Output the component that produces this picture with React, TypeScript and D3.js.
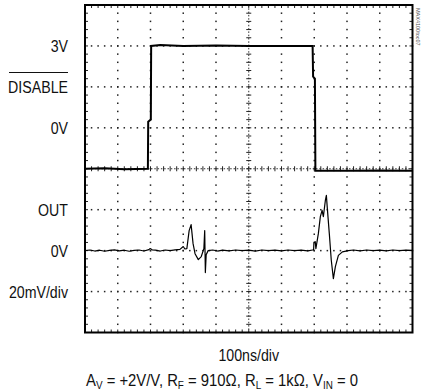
import React from "react";
import * as d3 from "d3";

// time in ns (100ns/div, 10 div), DISABLE in volts, OUT in mV (20mV/div)
const disableT = [0, 60, 120, 192, 193, 201, 202, 230, 300, 400, 500, 600, 695, 696.5, 702, 703.5, 800, 900, 1000];
const disableV = [0, 0.01, -0.01, 0, 1.15, 1.2, 3.0, 3.02, 3.0, 3.01, 3.0, 3.0, 3.0, 2.25, 2.2, -0.05, -0.05, -0.04, -0.05];

const outT = [0, 15, 30, 45, 60, 75, 90, 105, 120, 135, 150, 165, 180, 195, 199, 205, 215, 230, 245, 260, 275, 290, 300, 305, 311, 318, 324, 330, 336, 346, 355, 363, 365.5, 367.5, 370, 376, 390, 405, 420, 440, 460, 480, 500, 520, 540, 560, 580, 600, 620, 640, 660, 680, 695, 698, 699, 703, 705, 712.5, 718.6, 723.9, 727.8, 733.9, 737, 740, 746, 752, 758.4, 764.5, 773.7, 786, 804, 820, 840, 860, 880, 900, 920, 940, 960, 980, 1000];
const outMV = [0, 0.3, -0.2, 0.2, -0.3, 0.1, 0.4, -0.1, 0.2, -0.3, 0.1, 0.3, -0.2, 0.5, 1.0, 0.4, 0.2, -0.2, 0.3, 0, 0.4, 0.6, 2.0, 0.8, 1.0, 9.8, 12.7, 3.4, -1.5, -4.4, -2.9, 1.0, 9.8, -10.7, -2, 0, 0.3, -0.2, 0.2, -0.1, 0.3, 0, 0.2, -0.2, 0.3, 0, 0.2, -0.1, 0.3, 0, 0.2, -0.1, 0.3, 0.3, 3.8, 4.4, 1, 8.3, 16.6, 19.7, 16.6, 24.5, 27, 20.5, 8.3, -4.7, -13.7, -7.8, -2.3, -0.6, 0, 0.3, -0.1, 0.3, 0, 0.2, -0.1, 0.3, 0, 0.2, 0.1];

const leftLabels = ["3V", "DISABLE", "0V", "OUT", "0V", "20mV/div"];
const leftLabelDiv = [7, 6, 5, 3, 2, 1];
const xTitle = "100ns/div";

const L = 85, R = 412.5, T = 5, B = 332.5;
const FONT = "'Liberation Sans', Arial, sans-serif";
const SX = 0.86;

export default function App() {
  const x = d3.scaleLinear().domain([0, 1000]).range([L, R]);
  const y = d3.scaleLinear().domain([0, 8]).range([B, T]);
  const disableDiv = (v: number) => 4 + v; // 1V/div, 0V at div 4
  const outDiv = (mv: number) => 2 + mv / 20; // 20mV/div, 0 at div 2

  const disLine = d3.line<number>().x((_, i) => x(disableT[i])).y((v) => y(disableDiv(v)));
  const outLine = d3.line<number>().x((_, i) => x(outT[i])).y((v) => y(outDiv(v)));

  const xMinor = d3.range(0, 51).map((i) => i * 20);
  const yMinor = d3.range(0, 41).map((i) => i * 0.2);
  const xMajor = d3.range(1, 10).map((i) => i * 100);
  const yMajor = d3.range(1, 8);

  const dots: JSX.Element[] = [];
  yMajor.forEach((d) => {
    if (d === 4) return;
    xMinor.forEach((t, k) => dots.push(<rect key={`h${d}-${k}`} x={x(t) - 0.75} y={y(d) - 0.75} width={1.5} height={1.5} fill="#222" />));
  });
  xMajor.forEach((t) => {
    if (t === 500) return;
    yMinor.forEach((d, k) => dots.push(<rect key={`v${t}-${k}`} x={x(t) - 0.75} y={y(d) - 0.75} width={1.5} height={1.5} fill="#222" />));
  });

  const ticks: JSX.Element[] = [];
  xMinor.forEach((t, k) => ticks.push(<line key={`ch${k}`} x1={x(t)} x2={x(t)} y1={y(4) - 2.5} y2={y(4) + 2.5} stroke="#222" strokeWidth={1} />));
  yMinor.forEach((d, k) => ticks.push(<line key={`cv${k}`} x1={x(500) - 2.5} x2={x(500) + 2.5} y1={y(d)} y2={y(d)} stroke="#222" strokeWidth={1} />));
  xMinor.forEach((t, k) => {
    ticks.push(<line key={`bt${k}`} x1={x(t)} x2={x(t)} y1={T} y2={T + 3} stroke="#222" strokeWidth={1} />);
    ticks.push(<line key={`bb${k}`} x1={x(t)} x2={x(t)} y1={B} y2={B - 3} stroke="#222" strokeWidth={1} />);
  });
  yMinor.forEach((d, k) => {
    ticks.push(<line key={`bl${k}`} x1={L} x2={L + 3} y1={y(d)} y2={y(d)} stroke="#222" strokeWidth={1} />);
    ticks.push(<line key={`br${k}`} x1={R} x2={R - 3} y1={y(d)} y2={y(d)} stroke="#222" strokeWidth={1} />);
  });

  return (
    <svg width={422} height={390} style={{ position: "absolute", left: 0, top: 0, background: "#fff" }}>
      <rect x={0} y={0} width={422} height={390} fill="#fff" />
      {dots}
      <line x1={L} x2={R} y1={y(4)} y2={y(4)} stroke="#333" strokeWidth={1} strokeDasharray="1.5 1.8" />
      <line x1={x(500)} x2={x(500)} y1={T} y2={B} stroke="#333" strokeWidth={1} strokeDasharray="1.5 1.8" />
      {ticks}
      <rect x={L} y={T} width={R - L} height={B - T} fill="none" stroke="#000" strokeWidth={2} />
      <path d={disLine(disableV) || ""} fill="none" stroke="#000" strokeWidth={2} />
      <path d={outLine(outMV) || ""} fill="none" stroke="#000" strokeWidth={1.2} strokeLinejoin="round" />
      {leftLabels.map((lab, i) => (
        <g key={lab + i} transform={`translate(68,${y(leftLabelDiv[i])}) scale(${SX},1)`}>
          <text x={0} y={0} dy="0.36em" textAnchor="end" fontFamily={FONT} fontSize={16.5} fill="#111">
            {lab}
          </text>
        </g>
      ))}
      <line x1={9} x2={68} y1={72.5} y2={72.5} stroke="#111" strokeWidth={1.2} />
      <g transform={`translate(${x(500)},361) scale(${SX},1)`}>
        <text x={0} y={0} textAnchor="middle" fontFamily={FONT} fontSize={16.5} fill="#111">{xTitle}</text>
      </g>
      <g transform={`translate(86,386) scale(0.9,1)`}>
        <text x={0} y={0} fontFamily={FONT} fontSize={16.5} fill="#111">
          A<tspan fontSize={11} dy={3}>V</tspan>
          <tspan dy={-3}> = +2V/V, R</tspan>
          <tspan fontSize={11} dy={3}>F</tspan>
          <tspan dy={-3}> = 910Ω, R</tspan>
          <tspan fontSize={11} dy={3}>L</tspan>
          <tspan dy={-3}> = 1kΩ, V</tspan>
          <tspan fontSize={11} dy={3}>IN</tspan>
          <tspan dy={-3}> = 0</tspan>
        </text>
      </g>
      <text transform="translate(416,8) rotate(90)" fontFamily={FONT} fontSize={5.5} fill="#555">MAX4100toc07</text>
    </svg>
  );
}
